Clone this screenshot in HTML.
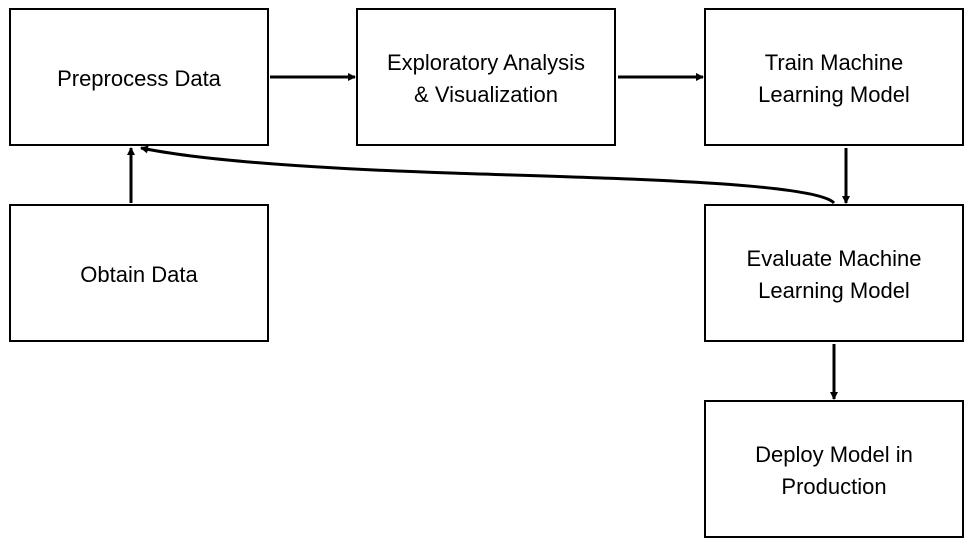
<!DOCTYPE html>
<html><head><style>
body{margin:0;width:971px;height:547px;background:#fff;position:relative;overflow:hidden;font-family:"Liberation Sans",sans-serif}
.b{position:absolute;width:256px;height:134px;border:2px solid #000;display:flex;align-items:center;justify-content:center;text-align:center;font-size:22px;line-height:32px;color:#000;padding-top:3px;box-sizing:content-box}
svg{position:absolute;left:0;top:0}
</style></head><body>
<div class="b" style="left:9px;top:8px;height:131px">Preprocess Data</div>
<div class="b" style="left:356px;top:8px;height:131px">Exploratory Analysis<br>&amp; Visualization</div>
<div class="b" style="left:704px;top:8px;height:131px">Train Machine<br>Learning Model</div>
<div class="b" style="left:9px;top:204px;height:131px">Obtain Data</div>
<div class="b" style="left:704px;top:204px;height:131px">Evaluate Machine<br>Learning Model</div>
<div class="b" style="left:704px;top:400px;height:131px">Deploy Model in<br>Production</div>
<svg width="971" height="547">
<defs><marker id="a" markerWidth="8" markerHeight="8" refX="7" refY="4" orient="auto" markerUnits="userSpaceOnUse"><path d="M0,0 L8,4 L0,8 Z" fill="#000"/></marker></defs>
<g stroke="#000" stroke-width="3" fill="none">
<line x1="270" y1="77" x2="355" y2="77" marker-end="url(#a)"/>
<line x1="618" y1="77" x2="703" y2="77" marker-end="url(#a)"/>
<line x1="846" y1="148" x2="846" y2="203" marker-end="url(#a)"/>
<line x1="834" y1="344" x2="834" y2="399" marker-end="url(#a)"/>
<line x1="131" y1="203" x2="131" y2="148" marker-end="url(#a)"/>
<path d="M834,203 C815,182 600,178 450,173 C300,168 200,160 141,148" marker-end="url(#a)"/>
</g></svg>
</body></html>
